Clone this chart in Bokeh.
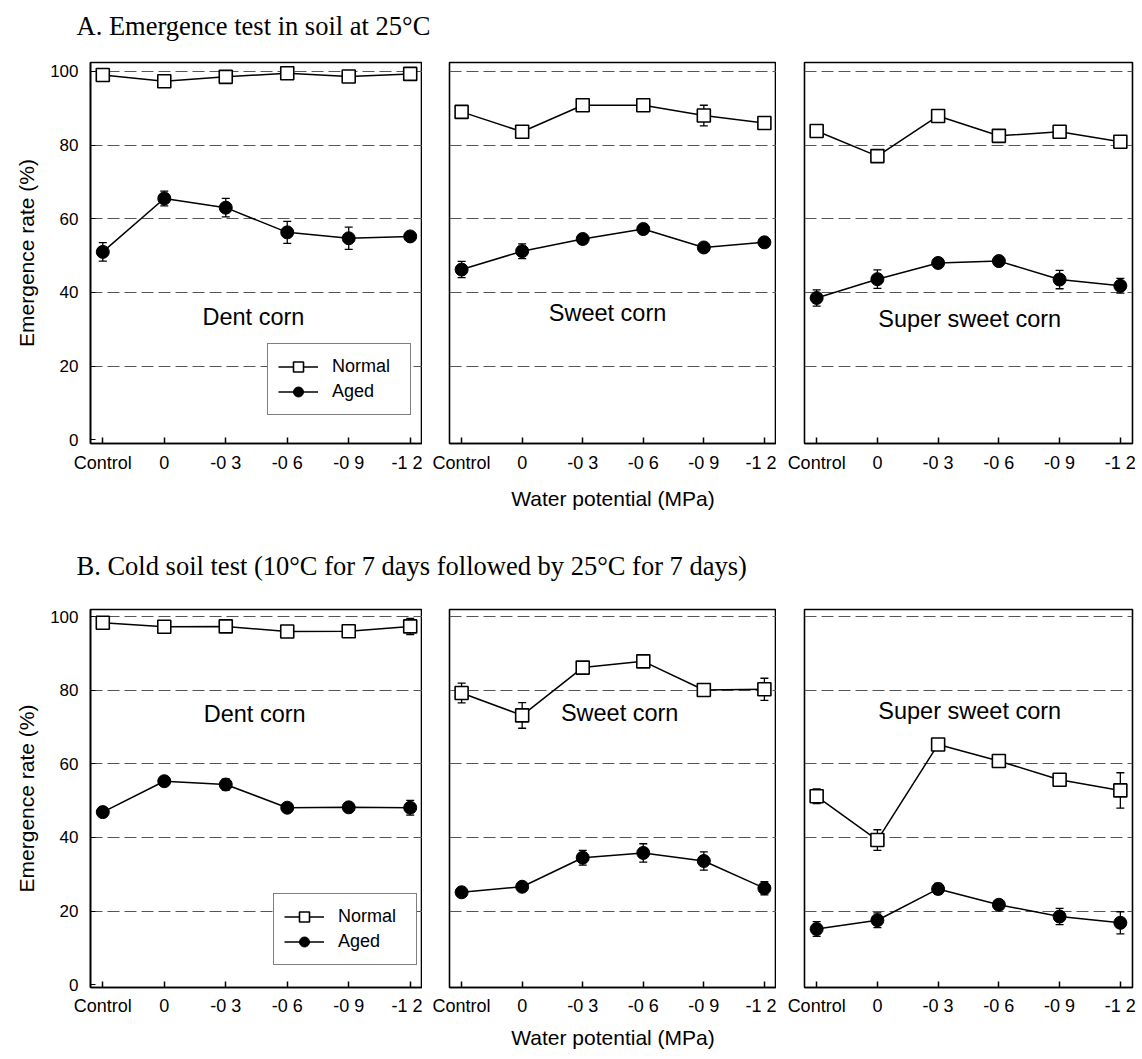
from bokeh.plotting import figure
from bokeh.layouts import column, row
from bokeh.models import (Range1d, FixedTicker, Whisker, TeeHead, ColumnDataSource,
                          Legend, LegendItem, Label)
from bokeh.embed import file_html
from bokeh.resources import INLINE

SANS = "Liberation Sans"
SERIF = "Liberation Serif"

# ---------------- data ----------------
x_labels = ["Control", "0", "-0 3", "-0 6", "-0 9", "-1 2"]
panel_names = ["Dent corn", "Sweet corn", "Super sweet corn"]
title_a = "A. Emergence test in soil at 25\u00b0C"
title_b = "B. Cold soil test (10\u00b0C for 7 days followed by 25\u00b0C for 7 days)"
x_title = "Water potential (MPa)"
y_title = "Emergence rate (%)"
y_ticks = [0, 20, 40, 60, 80, 100]

# A. Emergence test in soil at 25 C
a_dent_normal = [99.0, 97.3, 98.5, 99.5, 98.6, 99.3]
a_dent_normal_err = [0.6, 0.8, 0.8, 0.5, 0.8, 0.5]
a_dent_aged = [51.0, 65.5, 63.0, 56.3, 54.7, 55.2]
a_dent_aged_err = [2.5, 2.0, 2.5, 3.0, 3.0, 1.0]

a_sweet_normal = [89.0, 83.6, 90.8, 90.8, 88.0, 86.0]
a_sweet_normal_err = [0.8, 1.0, 1.0, 0.8, 2.8, 1.0]
a_sweet_aged = [46.2, 51.2, 54.5, 57.2, 52.2, 53.6]
a_sweet_aged_err = [2.2, 2.0, 1.2, 1.2, 1.0, 1.0]

a_super_normal = [83.8, 77.0, 87.9, 82.5, 83.6, 80.9]
a_super_normal_err = [0.8, 0.8, 0.8, 0.8, 0.8, 0.8]
a_super_aged = [38.5, 43.6, 48.0, 48.5, 43.5, 41.8]
a_super_aged_err = [2.2, 2.5, 1.0, 1.0, 2.5, 2.0]

# B. Cold soil test
b_dent_normal = [98.4, 97.3, 97.4, 96.0, 96.1, 97.4]
b_dent_normal_err = [1.0, 0.8, 0.8, 0.8, 1.5, 2.2]
b_dent_aged = [46.9, 55.3, 54.4, 48.1, 48.2, 48.1]
b_dent_aged_err = [1.0, 1.0, 1.5, 1.0, 1.0, 2.0]

b_sweet_normal = [79.3, 73.2, 86.2, 87.9, 80.1, 80.3]
b_sweet_normal_err = [2.7, 3.5, 1.0, 1.5, 0.5, 3.0]
b_sweet_aged = [25.1, 26.6, 34.5, 35.8, 33.6, 26.2]
b_sweet_aged_err = [1.0, 1.0, 2.0, 2.5, 2.5, 1.8]

b_super_normal = [51.2, 39.3, 65.3, 60.8, 55.7, 52.8]
b_super_normal_err = [2.0, 2.8, 1.2, 1.0, 0.8, 4.8]
b_super_aged = [15.1, 17.5, 26.0, 21.7, 18.5, 16.8]
b_super_aged_err = [2.0, 2.0, 1.5, 1.0, 2.2, 3.0]

# ---------------- layout constants ----------------
WIDTHS = [422, 354, 361]
MIN_LEFT = [90, 27, 28]
MIN_RIGHT = [0, 0, 5]
HEADER_W = 1137


def header(text, height, from_top):
    h = figure(width=HEADER_W, height=height, x_range=Range1d(0, HEADER_W),
               y_range=Range1d(0, height), output_backend="svg", toolbar_location=None,
               x_axis_location=None, y_axis_location=None, min_border=0)
    h.grid.visible = False
    h.outline_line_color = None
    h.add_layout(Label(x=76, y=height - from_top, text=text, text_font=SERIF,
                       text_font_size="26.5px", text_color="black",
                       text_baseline="middle", text_align="left"))
    return h


def panel(i, normal, normal_err, aged, aged_err, name, name_xy, yr, height, top, bottom,
          tick_standoff, label_standoff, legend_loc):
    xs = list(range(len(x_labels)))
    p = figure(width=WIDTHS[i], height=height, x_range=Range1d(-0.2, 5.2),
               y_range=Range1d(*yr), output_backend="svg", toolbar_location=None,
               min_border_left=MIN_LEFT[i], min_border_right=MIN_RIGHT[i],
               min_border_top=top, min_border_bottom=bottom)
    p.background_fill_color = "white"
    p.outline_line_color = "black"
    p.outline_line_width = 1.6

    # grid
    p.xgrid.visible = False
    p.ygrid.ticker = FixedTicker(ticks=[20, 40, 60, 80, 100])
    p.ygrid.grid_line_color = "#555555"
    p.ygrid.grid_line_dash = "12 5"
    p.ygrid.grid_line_width = 1

    # x axis
    xa = p.xaxis[0]
    xa.ticker = FixedTicker(ticks=xs)
    xa.major_label_overrides = {k: lab for k, lab in zip(xs, x_labels)}
    xa.major_tick_in = 6
    xa.major_tick_out = 0
    xa.minor_tick_line_color = None
    xa.major_tick_line_width = 1.5
    xa.axis_line_width = 1.6
    xa.major_label_text_font = SANS
    xa.major_label_text_font_size = "18px"
    xa.major_label_text_color = "black"
    xa.major_label_standoff = tick_standoff
    if i == 1:
        xa.axis_label = x_title
        xa.axis_label_text_font = SANS
        xa.axis_label_text_font_size = "21px"
        xa.axis_label_text_font_style = "normal"
        xa.axis_label_text_color = "black"
        xa.axis_label_standoff = label_standoff

    # y axis
    ya = p.yaxis[0]
    if i == 0:
        ya.ticker = FixedTicker(ticks=y_ticks)
        ya.major_tick_in = 5
        ya.major_tick_out = 0
        ya.minor_tick_line_color = None
        ya.axis_line_width = 1.6
        ya.major_label_text_font = SANS
        ya.major_label_text_font_size = "17px"
        ya.major_label_text_color = "black"
        ya.major_label_standoff = 12
        ya.axis_label = y_title
        ya.axis_label_text_font = SANS
        ya.axis_label_text_font_size = "21px"
        ya.axis_label_text_font_style = "normal"
        ya.axis_label_text_color = "black"
        ya.axis_label_standoff = 9
    else:
        ya.visible = False

    # error bars
    for vals, errs in ((normal, normal_err), (aged, aged_err)):
        src = ColumnDataSource(dict(x=xs,
                                    upper=[v + e for v, e in zip(vals, errs)],
                                    lower=[v - e for v, e in zip(vals, errs)]))
        w = Whisker(source=src, base="x", upper="upper", lower="lower", dimension="height",
                    line_color="black", line_width=1.3,
                    upper_head=TeeHead(size=8, line_color="black", line_width=1.3),
                    lower_head=TeeHead(size=8, line_color="black", line_width=1.3))
        p.add_layout(w)

    ln = p.line(xs, normal, line_color="black", line_width=1.5)
    sn = p.scatter(xs, normal, marker="square", size=13, fill_color="white",
                   line_color="black", line_width=1.6)
    la = p.line(xs, aged, line_color="black", line_width=1.5)
    sa = p.scatter(xs, aged, marker="circle", size=13, fill_color="black",
                   line_color="black", line_width=1)

    p.add_layout(Label(x=name_xy[0], y=name_xy[1], text=name, text_font=SANS,
                       text_font_size="23.5px", text_color="black",
                       text_align="center", text_baseline="middle"))

    if legend_loc is not None:
        leg = Legend(items=[LegendItem(label="Normal", renderers=[ln, sn]),
                            LegendItem(label="Aged", renderers=[la, sa])],
                     location=legend_loc, orientation="vertical")
        leg.border_line_color = "black"
        leg.border_line_width = 1.6
        leg.background_fill_color = "white"
        leg.background_fill_alpha = 1.0
        leg.label_text_font = SANS
        leg.label_text_font_size = "18px"
        leg.label_text_color = "black"
        leg.glyph_width = 40
        leg.glyph_height = 25
        leg.label_height = 20
        leg.label_width = 68
        leg.label_standoff = 14
        leg.padding = 10
        leg.spacing = 0
        leg.margin = 0
        p.add_layout(leg, "center")
    return p


# row A
A_H, A_TOP, A_BOT = 482, 14, 87
A_YR = (-1.0, 102.4)
pa1 = panel(0, a_dent_normal, a_dent_normal_err, a_dent_aged, a_dent_aged_err,
            panel_names[0], (2.45, 33.2), A_YR, A_H, A_TOP, A_BOT, 9, 11, (177, 28))
pa2 = panel(1, a_sweet_normal, a_sweet_normal_err, a_sweet_aged, a_sweet_aged_err,
            panel_names[1], (2.41, 34.3), A_YR, A_H, A_TOP, A_BOT, 9, 11, None)
pa3 = panel(2, a_super_normal, a_super_normal_err, a_super_aged, a_super_aged_err,
            panel_names[2], (2.52, 32.9), A_YR, A_H, A_TOP, A_BOT, 9, 11, None)

# row B
B_H, B_TOP, B_BOT = 463, 17, 68
B_YR = (-0.8, 102.0)
pb1 = panel(0, b_dent_normal, b_dent_normal_err, b_dent_aged, b_dent_aged_err,
            panel_names[0], (2.47, 73.7), B_YR, B_H, B_TOP, B_BOT, 8, 7, (183, 22))
pb2 = panel(1, b_sweet_normal, b_sweet_normal_err, b_sweet_aged, b_sweet_aged_err,
            panel_names[1], (2.61, 73.9), B_YR, B_H, B_TOP, B_BOT, 8, 7, None)
pb3 = panel(2, b_super_normal, b_super_normal_err, b_super_aged, b_super_aged_err,
            panel_names[2], (2.52, 74.5), B_YR, B_H, B_TOP, B_BOT, 8, 7, None)

ha = header(title_a, 48, 25)
hb = header(title_b, 62, 35)

layout = column(ha, row(pa1, pa2, pa3, spacing=0), hb, row(pb1, pb2, pb3, spacing=0),
                spacing=0)

open("out.html", "w").write(file_html(layout, INLINE, "Emergence rate"))
